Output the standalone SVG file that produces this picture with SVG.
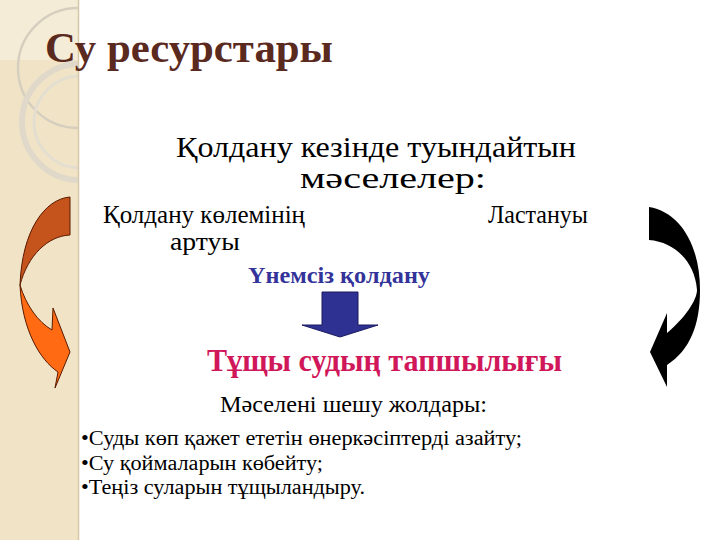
<svg xmlns="http://www.w3.org/2000/svg" width="720" height="540" viewBox="0 0 720 540">
<defs>
<clipPath id="strip"><rect x="0" y="0" width="78" height="540"/></clipPath>
</defs>
<rect width="720" height="540" fill="#fff"/>
<g id="sidebar">
<rect x="0" y="0" width="78" height="540" fill="#F1E4C6"/>
<rect x="0" y="0" width="78" height="60" fill="#F5ECD8"/>
<g clip-path="url(#strip)" fill="none">
<circle cx="78" cy="68" r="60" stroke="#D6CFBF" stroke-width="2.5"/>
<circle cx="80" cy="122" r="58" stroke="#E0D9CA" stroke-width="6"/>
<circle cx="80" cy="122" r="46" stroke="#E4DED0" stroke-width="3"/>
</g>
<line x1="78.5" y1="0" x2="78.5" y2="540" stroke="#D6C7A6" stroke-width="1.5"/>
</g>
<g id="title"><text x="45" y="62" font-family="Liberation Serif" font-weight="bold" font-size="43" fill="#5B2A1F" textLength="288" lengthAdjust="spacingAndGlyphs">Су ресурстары</text></g>
<g id="problems-heading" font-family="Liberation Serif">
<text x="176" y="157" font-size="29" textLength="400" lengthAdjust="spacingAndGlyphs">Қолдану кезінде туындайтын</text>
<text x="300" y="188" font-size="29" textLength="186" lengthAdjust="spacingAndGlyphs">мәселелер:</text>
</g>
<g id="volume" font-family="Liberation Serif"><text x="103" y="223" font-size="25" textLength="202" lengthAdjust="spacingAndGlyphs">Қолдану көлемінің</text><text x="170" y="250" font-size="25" textLength="70" lengthAdjust="spacingAndGlyphs">артуы</text></g>
<g id="pollution" font-family="Liberation Serif"><text x="488" y="223" font-size="25" textLength="100" lengthAdjust="spacingAndGlyphs">Ластануы</text></g>
<g id="wasteful"><text x="248" y="283" font-family="Liberation Serif" font-weight="bold" font-size="24" fill="#33339A" textLength="182" lengthAdjust="spacingAndGlyphs">Үнемсіз қолдану</text></g>
<g id="scarcity"><text x="207" y="371" font-family="Liberation Serif" font-weight="bold" font-size="31" fill="#D0175A" textLength="355" lengthAdjust="spacingAndGlyphs">Тұщы судың тапшылығы</text></g>
<g id="solutions" font-family="Liberation Serif">
<text x="220" y="412" font-size="23" textLength="267" lengthAdjust="spacingAndGlyphs">Мәселені шешу жолдары:</text>
<text x="81" y="445" font-size="20" textLength="441" lengthAdjust="spacingAndGlyphs">•Суды көп қажет ететін өнеркәсіптерді азайту;</text>
<text x="81" y="470" font-size="20" textLength="242" lengthAdjust="spacingAndGlyphs">•Су қоймаларын көбейту;</text>
<text x="81" y="494" font-size="20" textLength="284" lengthAdjust="spacingAndGlyphs">•Теңіз суларын тұщыландыру.</text>
</g>
<g id="connectors">
<path d="M322,292 H358 V325 H378 L340,337 L302,325 H322 Z" fill="#2E3192" stroke="#1A1A60" stroke-width="1"/>
<path d="M70,197 C45,199 22,230 20,285 C28,255 48,236 70,235 Z" fill="#C4531C" stroke="#5A1A00" stroke-width="1"/>
<path d="M20,285 C22,330 40,360 58,372 L55,388 L70,352 L53,308 L52,330 C38,322 26,305 20,285 Z" fill="#FF6A12" stroke="#5A1A00" stroke-width="1"/>
<path d="M649,207 C680,212 700,245 700,290 C700,325 690,350 667,365 L667,387 L650,352 L667,313 L667,333 C685,318 697,300 697,290 C695,262 675,242 649,240 Z" fill="#000"/>
</g>
</svg>
